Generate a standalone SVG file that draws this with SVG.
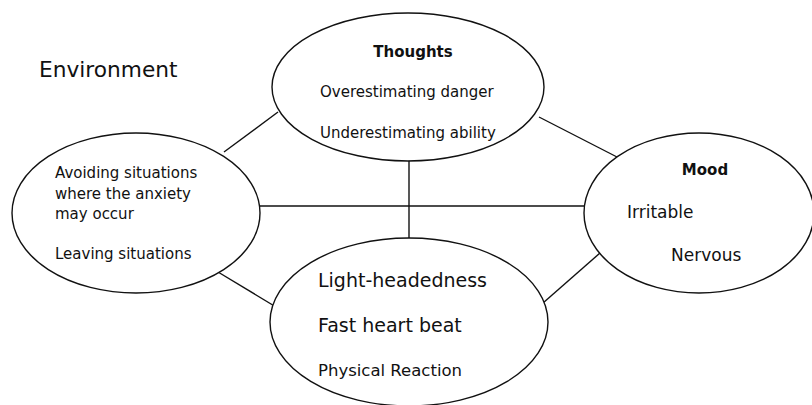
<svg xmlns="http://www.w3.org/2000/svg" width="812" height="405" viewBox="0 0 812 405">
  <style>
    .node { fill: #ffffff; stroke: #111111; stroke-width: 1.4; }
    .link { stroke: #111111; stroke-width: 1.4; fill: none; }
    text { font-family: "DejaVu Sans", Verdana, sans-serif; fill: #111111; }
    .b { font-weight: bold; font-size: 15px; }
    .s { font-size: 15px; }
    .m { font-size: 17px; }
    .l { font-size: 19px; }
  </style>
  <rect width="812" height="405" fill="#ffffff"/>

  <!-- connectors between the four areas -->
  <g id="connectors">
    <line class="link" x1="224" y1="152" x2="278" y2="112"/>
    <line class="link" x1="539" y1="117" x2="617" y2="157"/>
    <line class="link" x1="260" y1="206" x2="584" y2="206"/>
    <line class="link" x1="409" y1="160" x2="409" y2="239"/>
    <line class="link" x1="218" y1="272" x2="276" y2="307"/>
    <line class="link" x1="543" y1="303" x2="600" y2="253"/>
  </g>

  <text x="39" y="77" style="font-size:21.7px">Environment</text>

  <g id="thoughts">
    <ellipse class="node" cx="408" cy="87" rx="136" ry="74"/>
    <text class="b" x="413" y="57" text-anchor="middle">Thoughts</text>
    <text class="s" x="320" y="97">Overestimating danger</text>
    <text class="s" x="320" y="138">Underestimating ability</text>
  </g>

  <g id="behaviour">
    <ellipse class="node" cx="136" cy="213" rx="124" ry="80"/>
    <text class="s" x="55" y="178">Avoiding situations</text>
    <text class="s" x="55" y="199">where the anxiety</text>
    <text class="s" x="55" y="219">may occur</text>
    <text class="s" x="55" y="259">Leaving situations</text>
  </g>

  <g id="mood">
    <ellipse class="node" cx="699" cy="213" rx="115" ry="80"/>
    <text class="b" x="705" y="175" text-anchor="middle">Mood</text>
    <text class="m" x="627" y="218">Irritable</text>
    <text class="m" x="671" y="261">Nervous</text>
  </g>

  <g id="physical">
    <ellipse class="node" cx="409" cy="322" rx="139" ry="84"/>
    <text class="l" x="318" y="287">Light-headedness</text>
    <text class="l" x="318" y="332">Fast heart beat</text>
    <text x="318" y="376" style="font-size:16.5px">Physical Reaction</text>
  </g>
</svg>
